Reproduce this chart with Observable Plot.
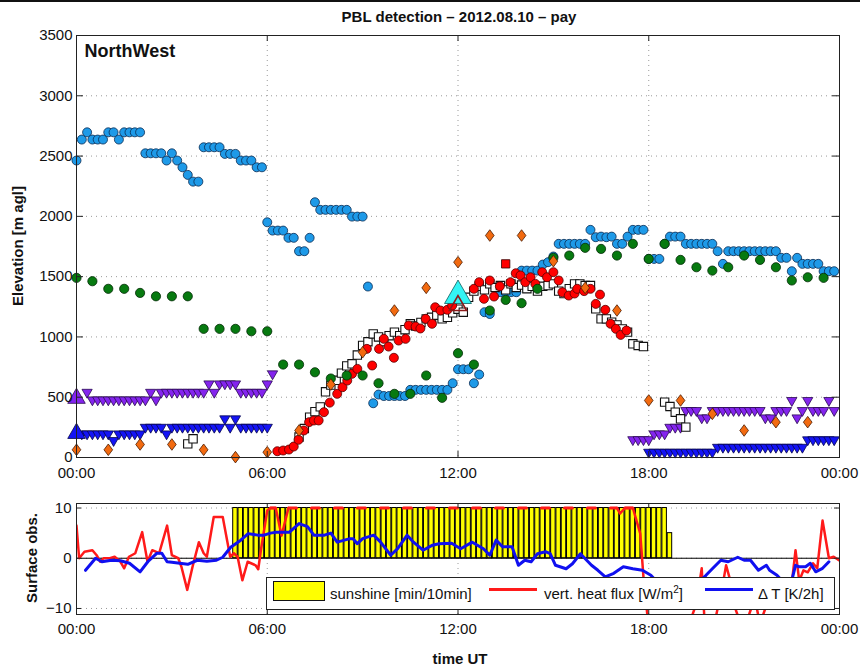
<!DOCTYPE html>
<html><head><meta charset="utf-8">
<script src="https://cdn.jsdelivr.net/npm/d3@7"></script>
<script src="https://cdn.jsdelivr.net/npm/@observablehq/plot@0.6"></script>
<style>
body{margin:0;background:#fff;font-family:'Liberation Sans',Arial,sans-serif;}
#wrap{position:relative;width:860px;height:668px;overflow:hidden;background:#fff;color:#111}
#wrap svg{position:absolute;left:0}
.lbl{position:absolute;font-weight:bold;font-size:15px;line-height:20px;text-align:center;white-space:nowrap}
#legend{position:absolute;left:266px;top:577px;width:569px;height:33px;box-sizing:border-box;border:1px solid #222;background:#fff;font-size:15px}
#legend span{position:absolute;top:0;line-height:31px;white-space:nowrap}
#legend .sw{position:absolute}
</style></head>
<body><div id="wrap"></div>
<script>
// ---------- data (time in minutes after 00:00 UT, value) ----------
const xTicks = [0, 6, 12, 18, 24];
const xTickLabels = ["00:00", "06:00", "12:00", "18:00", "00:00"];
const yTicksTop = [0, 500, 1000, 1500, 2000, 2500, 3000, 3500];
const yTicksBottom = [-10, 0, 10];

const layerLightBlue = [[0,2463],[10,2637],[20,2697],[30,2637],[40,2637],[50,2637],[60,2697],[70,2697],[80,2637],[90,2697],[100,2697],[110,2697],[120,2697],
[130,2523],[140,2523],[150,2523],[160,2523],[170,2463],[180,2523],[190,2463],[200,2407],[210,2344],[220,2288],[230,2288],
[240,2573],[250,2573],[260,2573],[270,2573],[280,2518],[290,2518],[300,2518],[310,2463],[320,2463],[330,2463],[340,2407],[350,2407],
[360,1951],[370,1882],[380,1882],[390,1882],[400,1822],[410,1822],[420,1711],[430,1711],[440,1822],[450,2117],[460,2054],[470,2054],[480,2054],[490,2054],[500,2054],[510,2054],[520,1998],[530,1998],[540,1998],[550,1418],
[560,450],[570,522],[580,510],[590,510],[600,510],[610,510],[620,510],[630,561],[640,561],[650,561],[660,561],[670,561],[680,561],[690,561],[700,561],[710,616],[720,732],[730,732],[740,732],[750,616],[760,688],
[770,1205],[780,1190],[800,1371],[810,1371],[820,1371],[830,1371],[840,1550],[850,1550],[860,1550],[870,1550],[880,1600],[890,1620],[900,1667],[910,1772],[920,1772],[930,1772],[940,1772],[950,1772],[960,1772],[970,1888],[980,1827],[990,1832],[1000,1827],[1010,1832],[1020,1772],[1030,1772],[1040,1832],[1050,1888],[1060,1888],[1070,1888],
[1080,1647],[1090,1647],[1100,1647],[1110,1772],[1120,1832],[1130,1832],[1140,1832],[1150,1772],[1160,1772],[1170,1772],[1180,1772],[1190,1772],[1200,1772],[1210,1711],[1220,1606],[1230,1711],[1240,1711],[1250,1711],[1260,1711],[1270,1711],[1280,1711],[1290,1711],[1300,1711],[1310,1711],[1320,1711],[1330,1656],[1340,1656],[1350,1545],[1360,1656],[1370,1606],[1380,1606],[1390,1606],[1400,1606],[1410,1545],[1420,1545],[1430,1545]];

const layerGreen = [[0,1490],[30,1462],[60,1399],[90,1399],[120,1365],[150,1337],[180,1337],[210,1337],[240,1067],[270,1067],[300,1067],[330,1047],[360,1047],[390,771],[420,771],[450,707],[480,655],[510,680],[540,680],[570,616],[600,528],[630,528],[660,680],[690,495],[720,865],[750,771],[780,1219],[810,1307],[840,1280],[870,1399],[900,1656],[930,1675],[960,1739],[990,1730],[1020,1675],[1050,1772],[1080,1647],[1110,1772],[1140,1639],[1170,1578],[1200,1550],[1230,1578],[1260,1675],[1290,1639],[1320,1578],[1350,1468],[1380,1495],[1410,1490]];

const pblRed = [[379,52],[390,58],[401,66],[410,91],[419,147],[429,224],[439,293],[448,307],[457,307],[467,376],[478,455],[492,528],[502,583],[511,638],[520,694],[530,735],[548,901],[558,763],[571,901],[580,984],[589,920],[599,827],[608,970],[621,984],[627,1095],[640,1086],[649,1070],[659,1150],[671,1109],[677,1246],[687,1219],[700,1225],[709,1260],[750,1399],[760,1454],[769,1316],[780,1468],[788,1335],[799,1420],[819,1454],[829,1528],[838,1510],[847,1454],[857,1495],[866,1440],[879,1537],[888,1495],[900,1537],[910,1468],[917,1371],[929,1343],[940,1360],[945,1399],[958,1380],[970,1399],[980,1274],[988,1351],[998,1225],[1008,1109],[1018,1067],[1027,1017],[1038,1053]];

const pblSquares = [[210,113],[220,155],
[420,170],[430,240],[440,334],[450,380],[460,420],[470,545],[480,600],[490,640],[500,700],[510,760],[520,777],[530,850],[540,929],[550,960],[560,1025],[570,1000],[580,960],[590,1010],[600,1040],[610,1011],[620,1060],[630,1109],[640,1090],[650,1120],[660,1150],[670,1163],[680,1180],[690,1150],[700,1163],[710,1200],[720,1230],[730,1205],[740,1329],[750,1380],[760,1420],[770,1390],[780,1440],[790,1410],[800,1426],[810,1390],[820,1440],[830,1410],[840,1430],[850,1400],[860,1420],[870,1380],[880,1420],[890,1426],[900,1440],[910,1380],[920,1360],[930,1400],[940,1440],[950,1440],[960,1426],[970,1426],[980,1233],[990,1150],[1000,1150],[1010,1122],[1020,1100],[1030,1067],[1040,1040],[1050,943],[1060,929],[1070,920],
[1110,459],[1120,423],[1130,376],[1140,321],[1150,252]];

const hourlyOrange = [[0,64],[60,64],[120,108],[180,108],[240,64],[300,3],[360,44],[420,224],[480,605],[540,873],[600,1219],[660,1407],[720,1620],[780,1841],[840,1841],[900,1628],[960,1407],[1020,1219],[1080,473],[1140,473],[1200,362],[1260,224],[1320,293],[1380,293]];

const purpleDown = [[20,541],[30,478],[40,478],[50,478],[60,478],[70,478],[80,478],[90,478],[100,478],[110,478],[120,478],[130,478],[140,541],[150,478],[160,541],[170,541],[180,541],[190,541],[200,541],[210,541],[220,541],[230,541],[240,541],[250,611],[260,541],[270,611],[280,611],[290,611],[300,611],[310,541],[320,541],[330,541],[340,541],[350,541],[360,611],[370,694],
[1050,148],[1060,148],[1070,148],[1080,148],[1090,196],[1100,196],[1110,196],[1120,251],[1130,251],[1140,251],[1150,390],[1160,390],[1170,390],[1180,329],[1190,329],[1200,390],[1210,390],[1220,390],[1230,390],[1240,390],[1250,390],[1260,390],[1270,390],[1280,390],[1290,390],[1300,329],[1310,329],[1320,390],[1330,390],[1340,390],[1350,473],[1360,329],[1370,390],[1380,473],[1390,390],[1400,390],[1410,390],[1420,473],[1430,390]];

const blueDown = [[10,196],[20,196],[30,196],[40,196],[50,196],[60,196],[70,141],[80,196],[90,196],[100,196],[110,196],[120,196],[130,251],[140,251],[150,251],[160,251],[170,196],[180,251],[190,251],[200,251],[210,251],[220,251],[230,251],[240,251],[250,251],[260,251],[270,251],[280,321],[290,251],[300,321],[310,251],[320,251],[330,251],[340,251],[350,251],[360,251],
[1080,44],[1090,44],[1100,44],[1110,44],[1120,44],[1130,44],[1140,44],[1150,44],[1160,44],[1170,44],[1180,44],[1190,44],[1200,44],[1210,85],[1220,85],[1230,85],[1240,85],[1250,85],[1260,85],[1270,85],[1280,85],[1290,85],[1300,85],[1310,85],[1320,85],[1330,85],[1340,85],[1350,85],[1360,85],[1370,85],[1380,147],[1390,147],[1400,147],[1410,147],[1420,147],[1430,147]];

const purpleStart = [[0,491]];
const blueStart = [[0,200]];
const cyanMark = [[720,1342]];
const darkRedOutline = [[720,1260]];
const redSquare = [[810,1606]];

// surface observations
const sunshineStart = 300, sunshineStep = 10; // minutes
const sunshine = [10,10,10,10,10,10,10,10,10,10,10,10,10,10,10,10,10,10,10,10,10,10,10,10,10,10,10,10,10,10,10,10,10,10,10,10,10,10,10,10,10,10,10,10,10,10,10,10,10,10,10,10,10,10,10,10,10,10,10,10,10,10,10,10,10,10,10,10,10,10,10,10,10,10,10,10,10,10,10,10,10,10,5];

const heatFlux = [[0,6.5],[5,0],[15,1.3],[30,1.6],[38,0.6],[45,-0.7],[51,0],[63,0],[72,0.3],[83,-0.7],[90,-2.0],[99,0.3],[111,1.0],[124,5.2],[134,-0.7],[143,1.6],[156,1.0],[171,6.5],[180,0.6],[192,0],[198,-1.7],[209,-6.3],[219,-1.7],[231,3.2],[240,1.0],[246,0.3],[259,8.2],[276,8.2],[290,0.3],[297,1.0],[304,0.3],[313,-4.4],[323,-0.7],[338,-1.4],[343,-2.2],[348,1.6],[360,9.5],[366,10],[376,10],[387,4.5],[400,10],
[410,10],[420,10],[430,10],[440,10],[450,10],[460,10],[470,10],[480,10],[490,10],[500,10],[510,10],[520,10],[530,10],[540,10],[550,10],[560,10],[570,10],[580,10],[590,10],[600,10],[610,10],[620,10],[630,10],[640,10],[650,10],[660,10],[670,10],[680,10],[690,10],[700,10],[710,10],[720,10],[730,10],[740,10],[750,10],[760,10],[770,10],[780,10],[790,10],[800,10],[810,10],[820,10],[830,10],[840,10],[850,10],[860,10],[870,10],[880,10],[890,10],[900,10],[910,10],[920,10],[930,10],[940,10],[950,10],[960,10],[970,10],[980,10],[990,10],[1000,10],[1010,10],[1020,10],
[1026,8.9],[1035,10],[1050,10],[1064,4.9],[1070,-3.7],[1080,-14],[1090,-19],[1100,-16],[1110,-21],[1120,-17],[1130,-13],[1140,-18],[1150,-14],[1160,-12],[1170,-9],[1180,-2.0],[1186,-14],[1192,-25],[1200,-15],[1210,-10],[1220,-5],[1226,-1.4],[1232,-3.7],[1240,-9],[1250,-12],[1260,-15],[1270,-11],[1280,-8],[1290,-13],[1300,-10],[1310,-7],[1320,-9],[1330,-6],[1340,-8],[1350,-5],[1357,1.6],[1364,-4.5],[1372,-2.4],[1380,-2.8],[1390,-1.0],[1398,-2.0],[1408,7.5],[1420,0],[1429,0.3],[1439,-0.4]];

const deltaT = [[17,-2.4],[36,0],[48,-0.7],[66,-0.4],[83,-0.5],[100,-1.0],[120,-2.7],[136,-0.5],[152,1.0],[161,1.0],[171,-0.7],[180,-0.8],[195,-1.0],[210,-1.2],[228,-0.4],[246,-0.6],[264,-0.4],[276,0.2],[291,2.2],[310,3.6],[324,4.9],[342,4.6],[354,4.6],[366,5.0],[378,5.2],[402,5.2],[420,6.9],[436,6.3],[448,4.6],[468,4.6],[480,5.0],[492,3.2],[516,3.9],[522,3.9],[530,2.9],[540,3.9],[561,4.6],[574,3.2],[593,0.6],[606,1.9],[624,4.6],[636,3.2],[654,1.6],[672,2.6],[684,2.9],[708,3.0],[725,1.9],[747,3.2],[768,1.9],[780,0.6],[792,3.6],[804,2.3],[822,2.3],[834,-1.4],[846,-0.4],[858,-0.7],[870,0.9],[885,1.3],[894,0.9],[904,-1.4],[924,-2.1],[936,-1.1],[951,0.9],[972,-1.4],[984,-2.4],[998,-3.7],[1014,-3.0],[1032,-1.7],[1050,-2.1],[1068,-2.4],[1084,-3.4],[1100,-5.2],[1120,-6.0],[1140,-5.8],[1160,-5.0],[1176,-4.6],[1188,-3.4],[1200,-2.1],[1216,-0.4],[1230,-0.7],[1248,0.2],[1260,-0.4],[1272,-0.4],[1287,-2.4],[1302,-1.4],[1308,-2.4],[1322,-3.4],[1336,-5.0],[1350,-4.4],[1357,-1.4],[1364,-1.7],[1376,-1.7],[1385,-1.0],[1395,-2.7],[1408,-2.0],[1420,-0.7]];

// ---------- helpers ----------
const rows = pairs => pairs.map(([m, v]) => ({h: m / 60, v}));
const fmtX = d => xTickLabels[xTicks.indexOf(d)];
const triDown = {draw(ctx, size) {
  const y = -Math.sqrt(size / (Math.sqrt(3) * 3)), c = Math.sqrt(3);
  ctx.moveTo(0, -2 * y); ctx.lineTo(-c * y, y); ctx.lineTo(c * y, y); ctx.closePath();
}};
const diamondWide = {draw(ctx, size) {
  const a = Math.sqrt(size / 1.5), b = 0.75 * a;
  ctx.moveTo(0, -a); ctx.lineTo(b, 0); ctx.lineTo(0, a); ctx.lineTo(-b, 0); ctx.closePath();
}};
const FONT = "'Liberation Sans', Arial, sans-serif";
const W = 860, ML = 76, MR = 21, FW = W - ML - MR;
const dots = (data, fill, stroke, r, symbol = "circle", extra = {}) =>
  Plot.dot(rows(data), {x: "h", y: "v", fill, stroke, strokeWidth: 0.8, r, symbol, ...extra});

// ---------- top panel ----------
const H1 = 490, MT1 = 35, MB1 = 33, FH1 = H1 - MT1 - MB1;
const topPlot = Plot.plot({
  width: W, height: H1, marginTop: MT1, marginBottom: MB1, marginLeft: ML, marginRight: MR,
  style: {fontFamily: FONT, fontSize: "15px", color: "#111", background: "transparent", overflow: "visible"},
  x: {domain: [0, 24], label: null},
  y: {domain: [0, 3500], label: null},
  marks: [
    Plot.ruleY(yTicksTop, {y: d => d, stroke: "#9a9a9a", strokeDasharray: "1,4"}),
    Plot.ruleX(xTicks, {x: d => d, stroke: "#9a9a9a", strokeDasharray: "1,4"}),
    dots(purpleDown, "#8424ee", "#2a0a50", 3.8, triDown),
    dots(blueDown, "#1414f5", "#05054a", 3.8, triDown),
    dots(layerLightBlue, "#1e9ae8", "#0a2a50", 4.5),
    dots(pblSquares, "#ffffff", "#111", 4.7, "square", {strokeWidth: 1.1}),
    dots(pblRed, "#ff0000", "#500", 4.5),
    dots(layerGreen, "#077a10", "#022a05", 4.6),
    dots(hourlyOrange, "#f26a10", "#4a1a00", 4.0, diamondWide),
    dots(purpleStart, "#8424ee", "#2a0a50", 6.5, "triangle"),
    dots(blueStart, "#1414f5", "#05054a", 6.5, "triangle"),
    dots(cyanMark, "#33f4f4", "#0a5a5a", 10, "triangle"),
    dots(darkRedOutline, "none", "#8b1a1a", 6.4, "triangle", {strokeWidth: 1.6}),
    dots(redSquare, "#ff0000", "#300", 4.7, "square"),
    Plot.frame({stroke: "#222"}),
    Plot.tickY(yTicksTop, {y: d => d, insetRight: FW - 7, stroke: "#222"}),
    Plot.tickY(yTicksTop, {y: d => d, insetLeft: FW - 7, stroke: "#222"}),
    Plot.tickX(xTicks, {x: d => d, insetBottom: FH1 - 6, stroke: "#222"}),
    Plot.tickX(xTicks, {x: d => d, insetTop: FH1 - 6, stroke: "#222"}),
    Plot.axisX(xTicks, {tickSize: 0, tickPadding: 10, tickFormat: fmtX, label: null}),
    Plot.axisY(yTicksTop, {tickSize: 0, tickPadding: 4, tickFormat: d => String(d), label: null}),
    Plot.text(["NorthWest"], {frameAnchor: "top-left", dx: 8, dy: 9, fontSize: 18, fontWeight: "bold", textAnchor: "start", lineAnchor: "top"})
  ]
});
topPlot.style.top = "0px";

// ---------- bottom panel ----------
const H2 = 178, MT2 = 13, MB2 = 54, FH2 = H2 - MT2 - MB2;
const flux = rows(heatFlux);
const sat = flux.map(d => d.v >= 10);
// solid part: every unsaturated point plus the saturated points next to an unsaturated one
const solidY = (d, i) => (!sat[i] || sat[i - 1] === false || sat[i + 1] === false) ? d.v : NaN;
const sun = sunshine.map((v, i) => ({m: sunshineStart + i * sunshineStep, v}));
const bottomPlot = Plot.plot({
  width: W, height: H2, marginTop: MT2, marginBottom: MB2, marginLeft: ML, marginRight: MR,
  style: {fontFamily: FONT, fontSize: "15px", color: "#111", background: "transparent", overflow: "visible"},
  x: {domain: [0, 24], label: null},
  y: {domain: [-11.2, 10.9], label: null},
  marks: [
    Plot.ruleY(yTicksBottom, {y: d => d, stroke: "#9a9a9a", strokeDasharray: "1,4"}),
    Plot.ruleX(xTicks, {x: d => d, stroke: "#9a9a9a", strokeDasharray: "1,4"}),
    Plot.rectY(sun, {x1: d => (d.m - sunshineStep / 2) / 60, x2: d => (d.m + sunshineStep / 2) / 60, y: "v", fill: "#ffff00", stroke: "#000", strokeWidth: 1, insetLeft: 0.4, insetRight: 0.4}),
    Plot.ruleY([0], {stroke: "#000", strokeWidth: 1}),
    Plot.line(flux, {x: "h", y: solidY, stroke: "#ff1a1a", strokeWidth: 2.5, clip: true}),
    Plot.line(flux, {x: "h", y: (d, i) => sat[i] ? d.v : NaN, stroke: "#ff1a1a", strokeWidth: 3, strokeDasharray: "8,15", clip: true}),
    Plot.line(rows(deltaT), {x: "h", y: "v", stroke: "#1010f0", strokeWidth: 3, clip: true}),
    Plot.frame({stroke: "#222"}),
    Plot.tickY(yTicksBottom, {y: d => d, insetRight: FW - 5, stroke: "#222"}),
    Plot.tickY(yTicksBottom, {y: d => d, insetLeft: FW - 5, stroke: "#222"}),
    Plot.tickX(xTicks, {x: d => d, insetBottom: FH2 - 5, stroke: "#222"}),
    Plot.tickX(xTicks, {x: d => d, insetTop: FH2 - 5, stroke: "#222"}),
    Plot.axisX(xTicks, {tickSize: 0, tickPadding: 9, tickFormat: fmtX, label: null}),
    Plot.axisY(yTicksBottom, {tickSize: 0, tickPadding: 5, label: null})
  ]
});
bottomPlot.style.top = "490px";

// ---------- assemble ----------
const wrap = document.getElementById("wrap");
wrap.appendChild(topPlot);
wrap.appendChild(bottomPlot);
const html = `
<div style="position:absolute;left:0;top:0;width:860px;height:2px;background:#111"></div>
<div class="lbl" style="left:259px;top:7px;width:400px;font-size:15px">PBL detection – 2012.08.10 – pay</div>
<div class="lbl" style="left:-132px;top:236px;width:300px;transform:rotate(-90deg)">Elevation [m agl]</div>
<div class="lbl" style="left:-118px;top:548px;width:300px;transform:rotate(-90deg)">Surface obs.</div>
<div class="lbl" style="left:360px;top:649px;width:200px">time UT</div>
<div id="legend">
  <div class="sw" style="left:6px;top:3px;width:50px;height:18px;background:#ffff00;border:1px solid #111"></div>
  <span style="left:63px">sunshine [min/10min]</span>
  <div class="sw" style="left:222px;top:10px;width:48px;height:3px;background:#ff1a1a"></div>
  <span style="left:277px">vert. heat flux [W/m<sup style="font-size:10px;line-height:0">2</sup>]</span>
  <div class="sw" style="left:438px;top:10px;width:48px;height:3px;background:#1010f0"></div>
  <span style="left:491px">Δ T [K/2h]</span>
</div>`;
wrap.insertAdjacentHTML("beforeend", html);
</script>
</body></html>
